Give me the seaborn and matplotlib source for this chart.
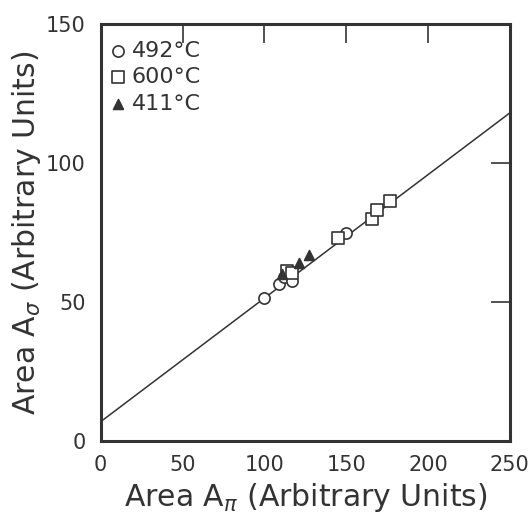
import matplotlib
matplotlib.use("Agg")
import matplotlib.pyplot as plt
import seaborn as sns
import pandas as pd

# Measured peak areas (arbitrary units)
t492_api = [100, 109, 112, 117, 150]
t492_asig = [51.5, 56.5, 59, 57.5, 75]
t600_api = [114, 117, 145, 166, 169, 177]
t600_asig = [61, 60.5, 73, 80, 83, 86.5]
t411_api = [111, 121, 127]
t411_asig = [60, 64, 67]

# Least-squares line end points
fit_api = [0, 250]
fit_asig = [7, 118]

x_ticks = [0, 50, 100, 150, 200, 250]
y_ticks = [0, 50, 100, 150]

sns.set_theme(style="white")
plt.rcParams["font.family"] = ["DejaVu Sans"]
plt.rcParams["mathtext.fontset"] = "dejavusans"

fig = plt.figure(figsize=(5.30, 5.19), dpi=100)
ax = fig.add_axes([0.19, 0.150, 0.772, 0.804])

ink = "#333333"

sns.lineplot(x=fit_api, y=fit_asig, ax=ax, color=ink, lw=1.1, zorder=2)

df = pd.concat([
    pd.DataFrame({"api": t492_api, "asig": t492_asig, "T": "492°C"}),
    pd.DataFrame({"api": t600_api, "asig": t600_asig, "T": "600°C"}),
    pd.DataFrame({"api": t411_api, "asig": t411_asig, "T": "411°C"}),
])
markers = {"492°C": "o", "600°C": "s", "411°C": "^"}
for label, sub in df.groupby("T", sort=False):
    filled = label == "411°C"
    sns.scatterplot(
        data=sub, x="api", y="asig", ax=ax, marker=markers[label],
        s=65 if not filled else 50,
        facecolor=ink if filled else "white", edgecolor=ink,
        linewidth=1.2, label=label, zorder=3,
    )

ax.set_xlim(0, 250)
ax.set_ylim(0, 150)
ax.set_xticks(x_ticks)
ax.set_yticks(y_ticks)
ax.tick_params(direction="in", length=14, width=1.2, color=ink,
               top=True, right=True, labelsize=15, labelcolor=ink)
ax.tick_params(axis="x", pad=10)
ax.tick_params(axis="y", pad=11)
ax.set_xticklabels([str(v) for v in x_ticks])
ax.set_yticklabels([str(v) for v in y_ticks])
for sp in ax.spines.values():
    sp.set_linewidth(2.2)
    sp.set_color(ink)

ax.set_xlabel(r"Area A$_\pi$ (Arbitrary Units)", fontsize=21.5, color=ink, labelpad=4)
ax.set_ylabel(r"Area A$_\sigma$ (Arbitrary Units)", fontsize=21.5, color=ink, labelpad=2)

leg = ax.legend(loc="upper left", bbox_to_anchor=(-0.025, 1.0), frameon=False,
                fontsize=16, handletextpad=0.1, handlelength=1.0,
                labelspacing=0.3, borderaxespad=0.35, labelcolor=ink)

fig.savefig("out.png", dpi=100)
